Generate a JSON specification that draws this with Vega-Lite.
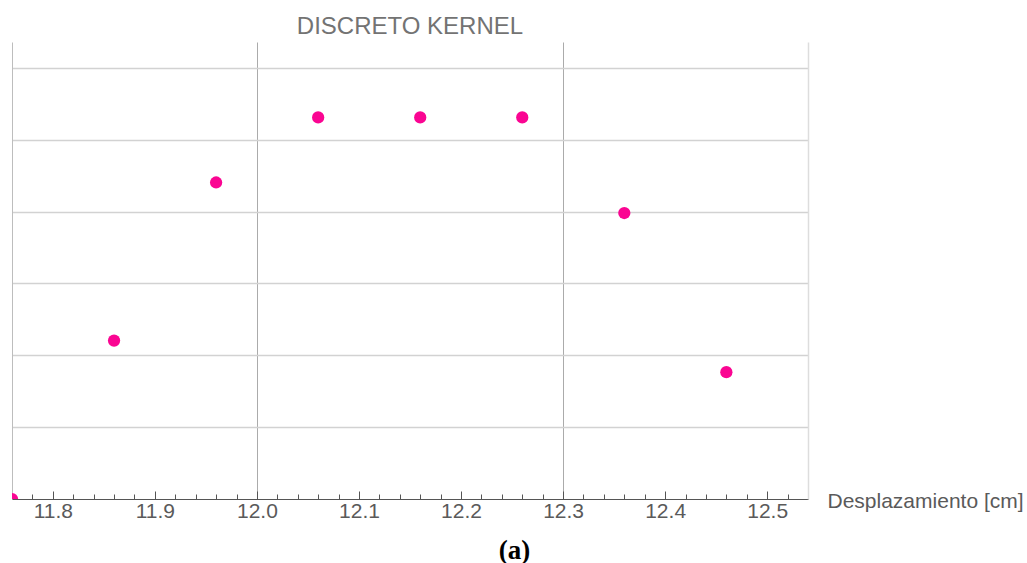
{
  "$schema": "https://vega.github.io/schema/vega-lite/v6.json",
  "autosize": "none",
  "width": 796,
  "height": 457,
  "padding": {"left": 12, "top": 42, "right": 219, "bottom": 64},
  "background": "white",
  "config": {"view": {"stroke": null}, "font": "Liberation Sans"},
  "title": {"text": "DISCRETO KERNEL", "fontSize": 24, "fontWeight": "normal", "color": "#737373", "anchor": "middle", "frame": "group", "offset": 3, "font": "Liberation Sans"},
  "data": {"values": [
    {"x": 11.76, "y": 0},
    {"x": 11.86, "y": 2.205},
    {"x": 11.96, "y": 4.405},
    {"x": 12.06, "y": 5.31},
    {"x": 12.16, "y": 5.31},
    {"x": 12.26, "y": 5.31},
    {"x": 12.36, "y": 3.98},
    {"x": 12.46, "y": 1.765}
  ]},
  "resolve": {"axis": {"x": "independent", "y": "independent"}},
  "layer": [
    {
      "mark": {"type": "point", "opacity": 0},
      "encoding": {
        "x": {"field": "x", "type": "quantitative", "scale": {"domain": [11.76, 12.54], "nice": false, "zero": false},
          "axis": {"orient": "bottom", "values": [12.0, 12.3], "grid": true, "gridColor": "#ababab", "gridWidth": 1, "domain": false, "ticks": false, "labels": false,
            "title": "(a)", "titleFont": "Liberation Serif", "titleFontWeight": "bold", "titleFontSize": 27, "titleColor": "#000000", "titleX": 502, "titleY": 51, "titleAlign": "center", "titleBaseline": "middle"}},
        "y": {"field": "y", "type": "quantitative", "scale": {"domain": [0, 6.36], "nice": false, "zero": true},
          "axis": {"orient": "left", "values": [1, 2, 3, 4, 5, 6], "grid": true, "gridColor": "#d2d2d2", "gridWidth": 1.5, "domain": true, "domainColor": "#bdbdbd", "ticks": false, "labels": false, "title": null}}
      }
    },
    {
      "mark": {"type": "point", "opacity": 0},
      "encoding": {
        "x": {"field": "x", "type": "quantitative",
          "axis": {"orient": "bottom", "values": [11.76, 11.78, 11.82, 11.84, 11.86, 11.88, 11.92, 11.94, 11.96, 11.98, 12.02, 12.04, 12.06, 12.08, 12.12, 12.14, 12.16, 12.18, 12.22, 12.24, 12.26, 12.28, 12.32, 12.34, 12.36, 12.38, 12.42, 12.44, 12.46, 12.48, 12.52, 12.54],
            "grid": false, "domain": false, "ticks": true, "tickSize": -5, "tickColor": "#555555", "labels": false, "title": null}},
        "y": {"field": "y", "type": "quantitative",
          "axis": {"orient": "right", "grid": false, "domain": true, "domainColor": "#dddddd", "domainWidth": 1.5, "ticks": false, "labels": false, "title": null}}
      }
    },
    {
      "mark": {"type": "point", "filled": true, "size": 150, "opacity": 1, "color": "#fa0592", "clip": true},
      "encoding": {
        "x": {"field": "x", "type": "quantitative",
          "axis": {"orient": "bottom", "values": [11.8, 11.9, 12.0, 12.1, 12.2, 12.3, 12.4, 12.5], "format": ".1f", "grid": false, "domain": true, "domainColor": "#555555", "domainWidth": 1,
            "ticks": true, "tickSize": -8, "tickColor": "#555555", "labels": true, "labelFontSize": 21, "labelColor": "#5a5a5a", "labelPadding": 9, "labelFont": "Liberation Sans",
            "title": "Desplazamiento [cm]", "titleFontSize": 21, "titleFontWeight": "normal", "titleColor": "#5a5a5a", "titleFont": "Liberation Sans", "titleX": 815, "titleY": 8, "titleAlign": "left", "titleBaseline": "alphabetic"}},
        "y": {"field": "y", "type": "quantitative", "axis": null}
      }
    }
  ]
}
